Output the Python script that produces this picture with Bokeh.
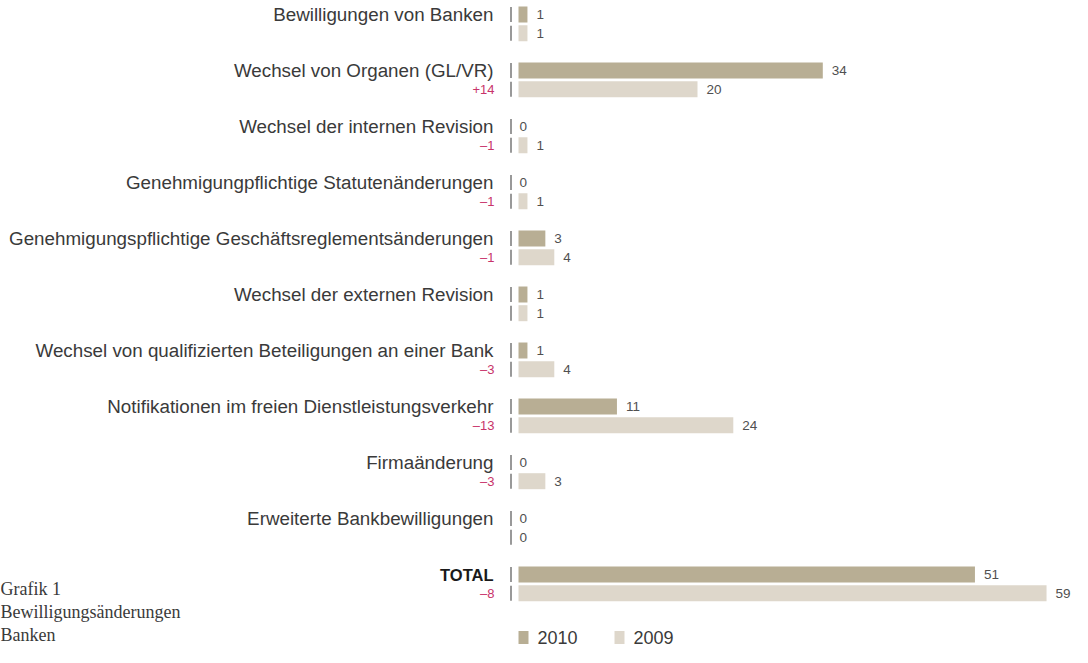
from bokeh.plotting import figure
from bokeh.models import Range1d, Label, ColumnDataSource
from bokeh.core.properties import value
from bokeh.embed import file_html
from bokeh.resources import INLINE

# ---- data ----
categories = [
    "Bewilligungen von Banken",
    "Wechsel von Organen (GL/VR)",
    "Wechsel der internen Revision",
    "Genehmigungpflichtige Statutenänderungen",
    "Genehmigungspflichtige Geschäftsreglementsänderungen",
    "Wechsel der externen Revision",
    "Wechsel von qualifizierten Beteiligungen an einer Bank",
    "Notifikationen im freien Dienstleistungsverkehr",
    "Firmaänderung",
    "Erweiterte Bankbewilligungen",
    "TOTAL",
]
values_2010 = [1, 34, 0, 0, 3, 1, 1, 11, 0, 0, 51]
values_2009 = [1, 20, 1, 1, 4, 1, 4, 24, 3, 0, 59]
diff_labels = ["", "+14", "–1", "–1", "–1", "", "–3", "–13", "–3", "", "–8"]
series_names = ["2010", "2009"]
title_lines = ["Grafik 1", "Bewilligungsänderungen", "Banken"]

# ---- style ----
C2010 = "#b8ae94"
C2009 = "#ded7cb"
CRED = "#c8336a"
SANS = "Liberation Sans"
SERIF = "Liberation Serif"

W, H = 1072, 647
PPU = 8.95          # pixels per unit
X0 = 518            # pixel of x = 0
ROW = 56.0          # pixels per row
Y0 = 14.0           # pixel of row 0 (2010 bar center)
OFF09 = 18.7 / ROW  # offset of 2009 bar
BAR_H = 16 / ROW

def xd(px):
    return (px - X0) / PPU

p = figure(width=W, height=H,
           x_range=Range1d(xd(0), xd(W)),
           y_range=Range1d((H - Y0) / ROW, -Y0 / ROW),
           output_backend="svg", toolbar_location=None,
           x_axis_location=None, y_axis_location=None,
           min_border=0, min_border_left=0, min_border_right=0,
           min_border_top=0, min_border_bottom=0)
p.grid.visible = False
p.outline_line_color = None
p.background_fill_color = "white"

n = len(categories)
rows = list(range(n))
y10 = [r for r in rows]
y09 = [r + OFF09 for r in rows]

# bars
p.hbar(y=y10, left=0, right=values_2010, height=BAR_H, fill_color=C2010, line_color=None)
p.hbar(y=y09, left=0, right=values_2009, height=BAR_H, fill_color=C2009, line_color=None)

# small baseline ticks
p.rect(x=[xd(510.5)] * n * 2, y=y10 + y09, width=1.2, height=15,
       width_units="screen", height_units="screen",
       fill_color="#555555", line_color=None)

# category labels
src_cat = ColumnDataSource(dict(
    x=[0] * n, y=y10, t=categories,
    st=["normal"] * (n - 1) + ["bold"],
    fs=["18.8px"] * (n - 1) + ["16.5px"],
    col=["#3a3a3a"] * (n - 1) + ["#1a1a1a"]))
p.text(x="x", y="y", text="t", source=src_cat, x_offset=-25,
       text_font=value(SANS), text_font_size="fs", text_font_style="st",
       text_color="col", text_align="right", text_baseline="middle")

# difference labels
p.text(x=[0] * n, y=y09, text=diff_labels, x_offset=-24,
       text_font=value(SANS), text_font_size="13px", text_color=CRED,
       text_align="right", text_baseline="middle")

# value labels
off10 = [9 if v > 0 else 1 for v in values_2010]
off09 = [9 if v > 0 else 1 for v in values_2009]
p.text(x=values_2010 + values_2009, y=y10 + y09,
       text=[str(v) for v in values_2010 + values_2009],
       x_offset=off10 + off09,
       text_font=value(SANS), text_font_size="13.5px", text_color="#505050",
       text_align="left", text_baseline="middle")

# legend
leg_y = (637 - Y0) / ROW
p.rect(x=[xd(523), xd(619)], y=[leg_y, leg_y], width=10, height=13,
       width_units="screen", height_units="screen",
       fill_color=[C2010, C2009], line_color=None)
p.text(x=[xd(537), xd(633)], y=[leg_y, leg_y], text=series_names,
       text_font=value(SANS), text_font_size="18px", text_color="#3a3a3a",
       text_align="left", text_baseline="middle")

# title block (bottom left)
for i, line in enumerate(title_lines):
    p.add_layout(Label(x=0, y=H - (588 + 23 * i), x_units="screen", y_units="screen",
                       text=line, text_font=SERIF, text_font_size="18px",
                       text_color="#3a3a3a", text_baseline="alphabetic"))

open("out.html", "w").write(file_html(p, INLINE))
